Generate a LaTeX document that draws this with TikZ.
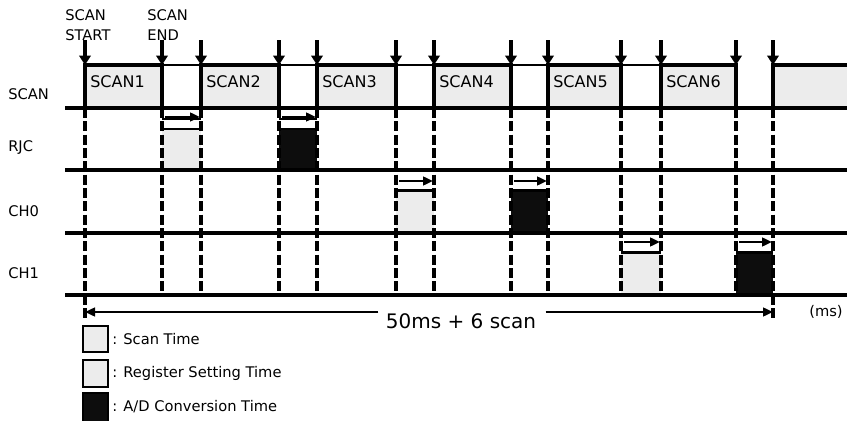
\documentclass[tikz,border=0pt]{standalone}
\usepackage{fontspec}
\setmainfont{DejaVu Sans}
\usetikzlibrary{arrows.meta}
\definecolor{lg}{HTML}{ECECEC}
\definecolor{dk}{HTML}{0D0D0D}
\begin{document}
\begin{tikzpicture}[x=0.75pt,y=-0.75pt,
  sig/.style={line width=2.3pt},
  thinsig/.style={line width=1pt},
  dsh/.style={line width=2.3pt, dash pattern=on 7.5pt off 2.5pt},
  darr/.style={line width=2.3pt,-{Triangle[width=8.5pt,length=7pt]}},
  rarr/.style={line width=1.8pt,-{Triangle[width=6.5pt,length=7.5pt]}},
  tarr/.style={line width=1.8pt,-{Triangle[width=6.5pt,length=7.5pt]}},
  lbl/.style={font=\fontsize{11}{13}\selectfont, inner sep=0pt},
  scn/.style={font=\fontsize{12}{14}\selectfont, inner sep=0pt, anchor=west},
  leg/.style={font=\fontsize{11}{13}\selectfont, inner sep=0pt, anchor=west},
  legbox/.style={line width=1.8pt}
]
\useasboundingbox (0,0) rectangle (847,421);

% time marks
\foreach \i/\x in {0/85,1/162,2/201,3/279,4/317,5/396,6/434,7/511,8/548,9/621,10/661,11/736,12/773}{
  \coordinate (t\i) at (\x,65);
  \coordinate (b\i) at (\x,108);
  \coordinate (a\i) at (\x,40);
  \coordinate (e\i) at (\x,295);
}
\coordinate (rE) at (847,65);
\coordinate (rEb) at (847,108);

% scan fills
\foreach \p/\q in {0/1,2/3,4/5,6/7,8/9,10/11}{
  \fill[lg] (t\p) rectangle (b\q);
}
\fill[lg] (t12) rectangle (rEb);

% register / conversion boxes
\foreach \xl/\xr/\ya/\yt/\yf/\yb/\c in {
  162/201/117/119/129/170/lg,
  279/317/117/119/129/170/dk,
  396/434/181/190/191/233/lg,
  511/548/181/190/191/233/dk,
  621/661/242/252/253/295/lg,
  736/773/242/252/253/295/dk}{
  \fill[\c] (\xl,\yf) rectangle (\xr,\yb);
  \draw[thinsig] (\xl,\yt) -- (\xr,\yt);
  \draw[line width=1.6pt] (\xl,\yf) -- (\xr,\yf);
  \coordinate (ra) at (\xl+3,\ya);
  \coordinate (rb) at (\xr-1,\ya);
  \draw[rarr] (ra) -- (rb);
}

% horizontal row lines
\foreach \y in {108,170,233,295}{
  \coordinate (hl) at (65,\y);
  \coordinate (hr) at (847,\y);
  \draw[sig] (hl) -- (hr);
}

% dashed vertical lines
\foreach \i in {1,...,11}{
  \draw[dsh] (b\i) -- (e\i);
}
\coordinate (L) at (85,312);
\coordinate (R) at (773,312);
\coordinate (Ld) at (85,318);
\coordinate (Rd) at (773,318);
\draw[dsh] (b0) -- (Ld);
\draw[dsh] (b12) -- (Rd);

% scan signal outlines
\foreach \p/\q in {0/1,2/3,4/5,6/7,8/9,10/11}{
  \draw[sig] (b\p) -- (t\p) -- (t\q) -- (b\q);
}
\draw[sig] (b12) -- (t12) -- (rE);
\foreach \p/\q in {1/2,3/4,5/6,7/8,9/10}{
  \draw[thinsig] (t\p) -- (t\q);
}

% down arrows
\foreach \i in {0,...,12}{
  \draw[darr] (a\i) -- (t\i);
}

% labels
\node[lbl,anchor=west] (s1) at (65,15) {SCAN};
\node[lbl,anchor=west] (s2) at (65,35) {START};
\node[lbl,anchor=west] (s3) at (147,15) {SCAN};
\node[lbl,anchor=west] (s4) at (147,35) {END};

\node[lbl,anchor=west] (lscan) at (8,94) {SCAN};
\node[lbl,anchor=west] (lrjc) at (8,148) {RJC};
\node[lbl,anchor=west] (lch0) at (8,211) {CH0};
\node[lbl,anchor=west] (lch1) at (8,273) {CH1};

\node[scn] (n1) at (90,82) {SCAN1};
\node[scn] (n2) at (206,82) {SCAN2};
\node[scn] (n3) at (322,82) {SCAN3};
\node[scn] (n4) at (439,82) {SCAN4};
\node[scn] (n5) at (553,82) {SCAN5};
\node[scn] (n6) at (666,82) {SCAN6};

% total time
\node[font=\fontsize{15}{17}\selectfont, inner sep=0pt] (tot) at (461,321) {50ms + 6 scan};
\coordinate (tw) at ([xshift=-5.5pt]tot.west |- L);
\coordinate (te) at ([xshift=7pt]tot.east |- R);
\draw[tarr] (tw) -- (L);
\draw[tarr] (te) -- (R);
\node[lbl] (ms) at (826,312) {(ms)};

% legend
\draw[legbox, fill=lg] (83,326) rectangle (108,352);
\draw[legbox, fill=lg] (83,360) rectangle (108,387);
\draw[legbox, fill=dk] (83,393) rectangle (108,423);
\node[leg] (g1) at (112,339) {: Scan Time};
\node[leg] (g2) at (112,373) {: Register Setting Time};
\node[leg] (g3) at (112,407) {: A/D Conversion Time};
\end{tikzpicture}
\end{document}
